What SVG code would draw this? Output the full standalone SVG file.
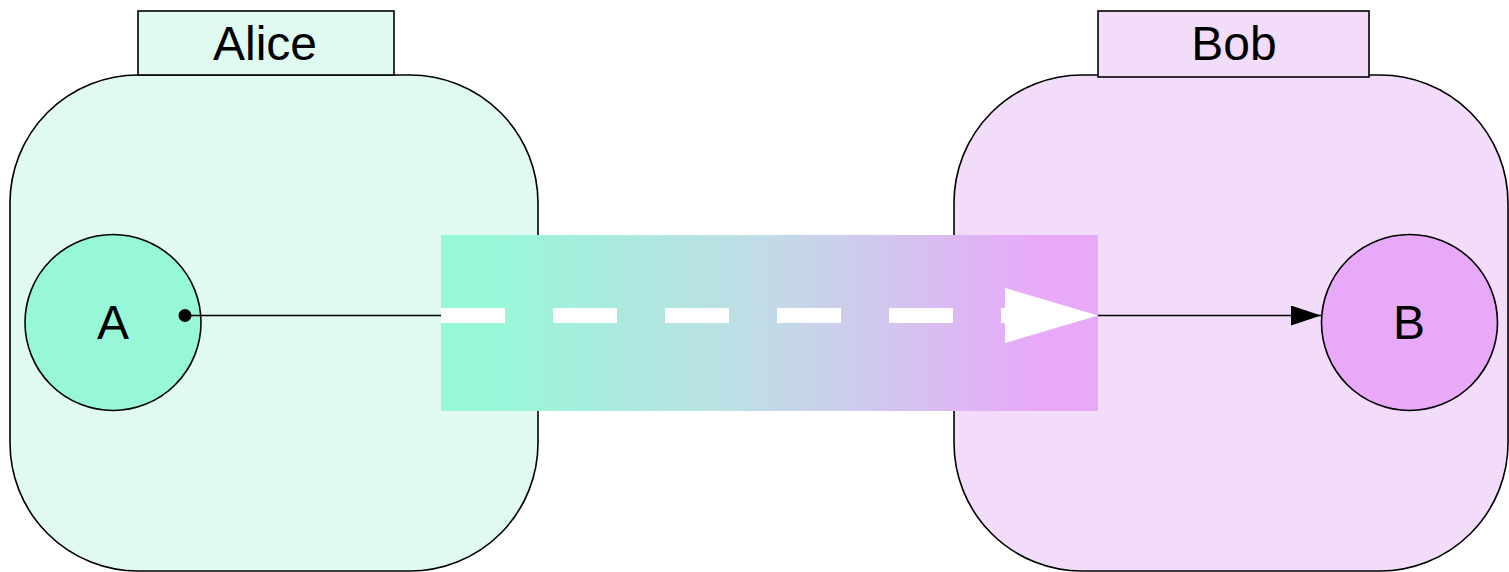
<svg xmlns="http://www.w3.org/2000/svg" width="1509" height="572" viewBox="0 0 1509 572">
  <defs>
    <linearGradient id="bridge" gradientUnits="userSpaceOnUse" x1="441" y1="0" x2="1098" y2="0">
      <stop offset="0.06" stop-color="#96f8d8"/>
      <stop offset="0.5" stop-color="#c1dbe6"/>
      <stop offset="0.9" stop-color="#e8aaf8"/>
    </linearGradient>
    <marker id="arrow" viewBox="0 0 30 20" refX="30" refY="10" markerWidth="30" markerHeight="20" markerUnits="userSpaceOnUse" orient="auto">
      <path d="M0,0 L30,10 L0,20 Z" fill="#000"/>
    </marker>
  </defs>
  <style>
    .box { stroke: #000; stroke-width: 1.6; }
    .lbl { font-family: "Liberation Sans", Arial, sans-serif; font-size: 48px; fill: #000; text-anchor: middle; }
    .edge { stroke: #000; stroke-width: 1.6; fill: none; }
  </style>
  <rect width="1509" height="572" fill="#fff"/>
  <g id="cluster-alice">
    <rect class="box" x="10" y="75" width="528" height="496" rx="128" ry="128" fill="#e0f9f1"/>
    <rect class="box" x="138" y="11" width="256" height="64" fill="#e0f9f1"/>
    <text class="lbl" x="265" y="60">Alice</text>
  </g>
  <g id="cluster-bob">
    <rect class="box" x="954" y="75" width="554" height="496" rx="128" ry="128" fill="#f2dcfa"/>
    <rect class="box" x="1098" y="11" width="271" height="66" fill="#f2dcfa"/>
    <text class="lbl" x="1234" y="60">Bob</text>
  </g>
  <g id="node-a">
    <circle class="box" cx="113" cy="322.5" r="88" fill="#96f8d8"/>
    <text class="lbl" x="113" y="339">A</text>
  </g>
  <g id="node-b">
    <circle class="box" cx="1409.5" cy="322.5" r="88" fill="#e8aaf8"/>
    <text class="lbl" x="1409" y="339">B</text>
  </g>
  <g id="connectors">
    <line class="edge" x1="185" y1="315.5" x2="441" y2="315.5"/>
    <circle cx="185" cy="315.5" r="6.5" fill="#000"/>
    <line class="edge" x1="1098" y1="315.5" x2="1321" y2="315.5" marker-end="url(#arrow)"/>
    <rect x="441" y="235" width="657" height="176" fill="url(#bridge)"/>
    <line x1="441" y1="315.5" x2="1010" y2="315.5" stroke="#fff" stroke-width="15" stroke-dasharray="64 48"/>
    <path d="M1005,288 L1098,315.5 L1005,343 Z" fill="#fff"/>
  </g>
</svg>
